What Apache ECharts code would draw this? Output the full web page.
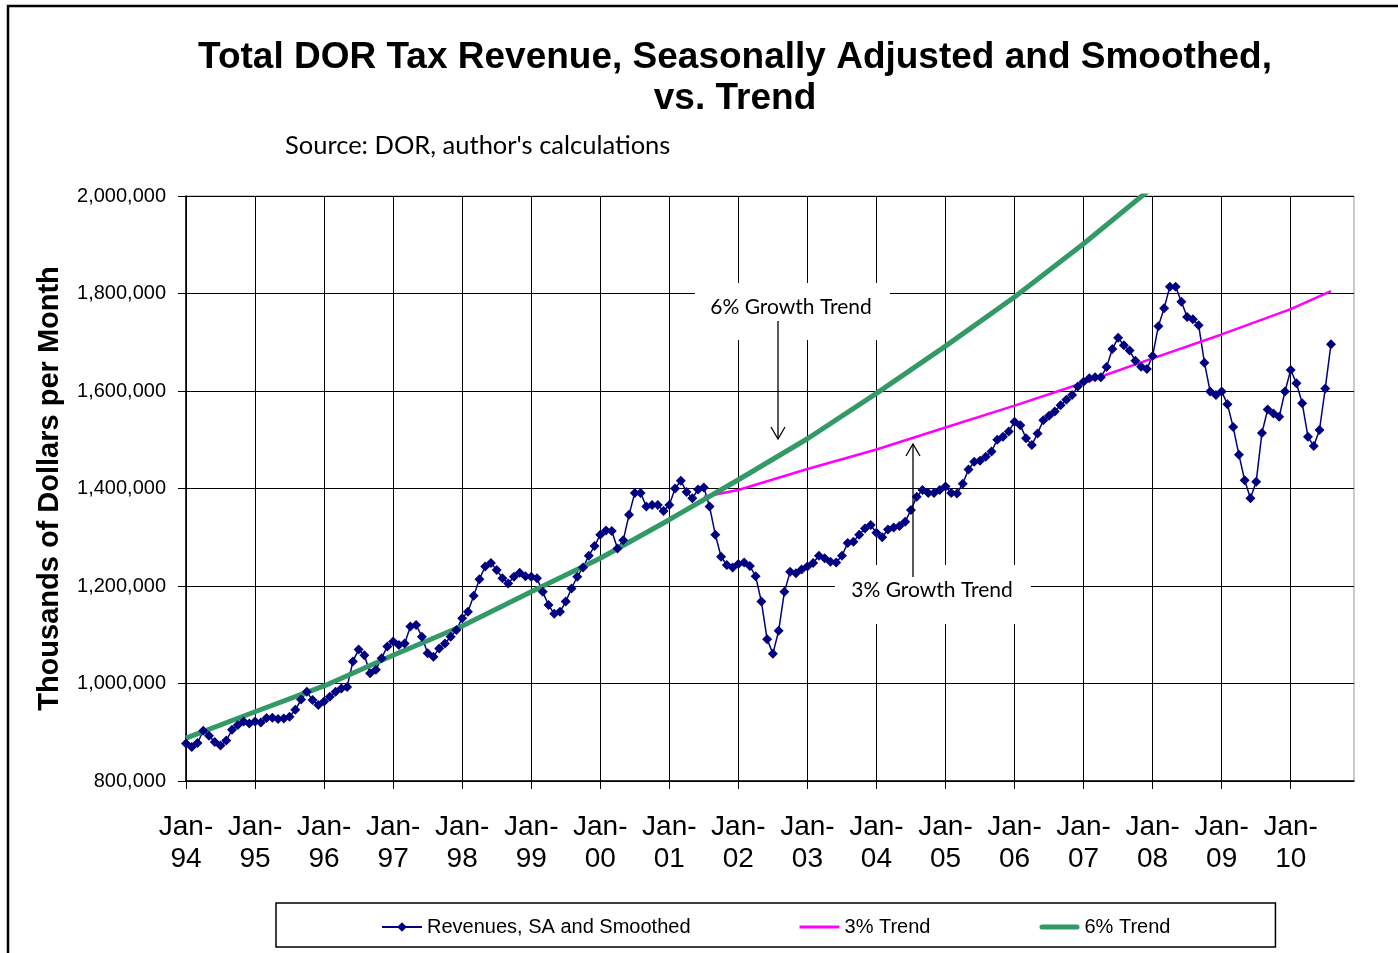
<!DOCTYPE html>
<html>
<head>
<meta charset="utf-8">
<title>Total DOR Tax Revenue vs. Trend</title>
<script src="https://cdn.jsdelivr.net/npm/echarts@6/dist/echarts.min.js"></script>
<style>
  html, body { margin: 0; padding: 0; background: #fff; }
  #chart { width: 1398px; height: 953px; }
</style>
</head>
<body>
<div id="chart"></div>
<script>
// x axis: one category per month, Jan-94 .. Dec-10
const years = ['94', '95', '96', '97', '98', '99', '00', '01', '02',
  '03', '04', '05', '06', '07', '08', '09', '10'];
const monthNames = ['Jan', 'Feb', 'Mar', 'Apr', 'May', 'Jun',
  'Jul', 'Aug', 'Sep', 'Oct', 'Nov', 'Dec'];

// Revenues, SA and Smoothed (thousands of dollars), Jan-94 .. Aug-10
const revenue = [
  877000, 870000, 878000, 903000, 893000, 880000, 873000, 883000, 905000, 915000, 922000, 918000,
  922000, 920000, 929000, 930000, 927000, 928000, 932000, 946000, 967000, 983000, 966000, 956000,
  963000, 973000, 983000, 990000, 993000, 1045000, 1070000, 1058000, 1021000, 1028000, 1052000, 1076000,
  1086000, 1079000, 1082000, 1117000, 1120000, 1096000, 1062000, 1055000, 1072000, 1082000, 1096000, 1110000,
  1134000, 1147000, 1180000, 1214000, 1240000, 1247000, 1233000, 1216000, 1205000, 1219000, 1227000, 1220000,
  1219000, 1216000, 1188000, 1161000, 1143000, 1147000, 1168000, 1195000, 1219000, 1238000, 1262000, 1282000,
  1305000, 1314000, 1313000, 1277000, 1294000, 1346000, 1391000, 1391000, 1363000, 1366000, 1366000, 1354000,
  1366000, 1400000, 1416000, 1393000, 1380000, 1398000, 1402000, 1363000, 1305000, 1260000, 1243000, 1238000,
  1245000, 1248000, 1241000, 1220000, 1168000, 1091000, 1061000, 1108000, 1188000, 1229000, 1226000, 1234000,
  1240000, 1247000, 1262000, 1257000, 1250000, 1248000, 1262000, 1288000, 1291000, 1305000, 1318000, 1325000,
  1309000, 1300000, 1316000, 1320000, 1323000, 1332000, 1356000, 1383000, 1397000, 1391000, 1391000, 1397000,
  1404000, 1391000, 1390000, 1410000, 1439000, 1455000, 1457000, 1465000, 1476000, 1500000, 1506000, 1517000,
  1537000, 1530000, 1503000, 1489000, 1513000, 1540000, 1549000, 1558000, 1571000, 1582000, 1592000, 1609000,
  1619000, 1626000, 1628000, 1628000, 1649000, 1686000, 1709000, 1694000, 1683000, 1662000, 1650000, 1645000,
  1672000, 1733000, 1770000, 1814000, 1814000, 1783000, 1752000, 1747000, 1735000, 1658000, 1599000, 1592000,
  1599000, 1573000, 1526000, 1469000, 1417000, 1380000, 1414000, 1514000, 1562000, 1554000, 1547000, 1599000,
  1643000, 1616000, 1575000, 1506000, 1487000, 1520000, 1605000, 1696000
];

// 3% trend, read at the start and at each January
const trend3Months = ['Jul-01', 'Jan-02', 'Jan-03', 'Jan-04', 'Jan-05', 'Jan-06',
  'Jan-07', 'Jan-08', 'Jan-09', 'Jan-10', 'Aug-10'];
const trend3Values = [1383000, 1397000, 1440000, 1480000, 1525000, 1570000,
  1617000, 1667000, 1716000, 1768000, 1805000];

// 6% trend, read at each January (goes off the top late in 2007)
const trend6Months = ['Jan-94', 'Jan-95', 'Jan-96', 'Jan-97', 'Jan-98', 'Jan-99', 'Jan-00',
  'Jan-01', 'Jan-02', 'Jan-03', 'Jan-04', 'Jan-05', 'Jan-06', 'Jan-07', 'Jan-08'];
const trend6Values = [888000, 942000, 995000, 1058000, 1118000, 1188000, 1257000,
  1336000, 1418000, 1502000, 1595000, 1692000, 1793000, 1902000, 2018000];

const months = [];
years.forEach(y => monthNames.forEach(m => months.push(m + '-' + y)));

function placeOnMonths(labels, values) {
  const out = months.map(() => null);
  labels.forEach((lab, i) => { out[months.indexOf(lab)] = values[i]; });
  return out;
}

const isJan = (index) => index % 12 === 0;
const FONT = '"Liberation Sans", Arial, sans-serif';
const CAL = 'Lato, "Open Sans", sans-serif';

const chart = echarts.init(document.getElementById('chart'));

chart.setOption({
  animation: false,
  backgroundColor: '#fff',
  grid: {
    left: 186, right: 44, top: 196, bottom: 172,
    show: true, borderColor: '#999', borderWidth: 1
  },
  xAxis: {
    type: 'category',
    data: months,
    boundaryGap: false,
    axisLine: { onZero: false, lineStyle: { color: '#000', width: 1.5 } },
    axisTick: { interval: isJan, length: 8, lineStyle: { color: '#000' } },
    axisLabel: {
      interval: isJan,
      color: '#000',
      fontFamily: FONT,
      fontSize: 28,
      lineHeight: 32,
      margin: 30,
      formatter: v => v.replace('-', '-\n')
    },
    splitLine: { show: true, interval: isJan, lineStyle: { color: '#000', width: 1 } }
  },
  yAxis: {
    type: 'value',
    min: 800000,
    max: 2000000,
    interval: 200000,
    name: 'Thousands of Dollars per Month',
    nameLocation: 'middle',
    nameRotate: 90,
    nameGap: 122,
    nameTextStyle: { color: '#000', fontFamily: FONT, fontWeight: 'bold', fontSize: 29 },
    axisLine: { show: true, lineStyle: { color: '#000', width: 1.5 } },
    axisTick: { show: true, length: 8, lineStyle: { color: '#000' } },
    axisLabel: {
      color: '#000',
      fontFamily: FONT,
      fontSize: 20,
      margin: 20,
      formatter: v => v.toLocaleString('en-US')
    },
    splitLine: { show: true, lineStyle: { color: '#000', width: 1 } }
  },
  legend: {
    left: 276,
    top: 903,
    padding: [14, 105, 10, 105],
    itemGap: 109,
    itemWidth: 40,
    itemHeight: 12,
    borderColor: '#000',
    borderWidth: 1.5,
    textStyle: { color: '#000', fontFamily: FONT, fontSize: 20 },
    data: [
      'Revenues, SA and Smoothed',
      { name: '3% Trend', icon: 'path://M0,0 L40,0 L40,3 L0,3 Z' },
      { name: '6% Trend', icon: 'path://M2.5,0 L37.5,0 A2.5,2.5 0 0 1 37.5,5 L2.5,5 A2.5,2.5 0 0 1 2.5,0 Z' }
    ]
  },
  series: [
    {
      name: 'Revenues, SA and Smoothed',
      type: 'line',
      data: revenue,
      symbol: 'diamond',
      symbolSize: 10,
      showAllSymbol: true,
      itemStyle: { color: '#000080' },
      lineStyle: { color: '#000080', width: 1.5 }
    },
    {
      name: '3% Trend',
      type: 'line',
      data: placeOnMonths(trend3Months, trend3Values),
      connectNulls: true,
      symbol: 'none',
      itemStyle: { color: '#ff00ff' },
      lineStyle: { color: '#ff00ff', width: 2.5 }
    },
    {
      name: '6% Trend',
      type: 'line',
      data: placeOnMonths(trend6Months, trend6Values),
      connectNulls: true,
      symbol: 'none',
      itemStyle: { color: '#339966' },
      lineStyle: { color: '#339966', width: 5 }
    }
  ],
  graphic: [
    // outer frame
    { type: 'rect', z: 0, shape: { x: 8, y: 6, width: 1420, height: 980 },
      style: { fill: null, stroke: '#000', lineWidth: 2.5 } },
    // title and source note
    { type: 'text', x: 735, y: 58, z: 10,
      style: { text: 'Total DOR Tax Revenue, Seasonally Adjusted and Smoothed,', align: 'center',
        verticalAlign: 'middle', font: 'bold 37px ' + FONT, fill: '#000' } },
    { type: 'text', x: 735, y: 99, z: 10,
      style: { text: 'vs. Trend', align: 'center', verticalAlign: 'middle',
        font: 'bold 37px ' + FONT, fill: '#000' } },
    { type: 'text', x: 285, y: 146, z: 10,
      style: { text: "Source: DOR, author's calculations", align: 'left', verticalAlign: 'middle',
        font: '25.5px ' + CAL, fill: '#000' } },
    // 6% growth trend callout
    { type: 'rect', z: 1, shape: { x: 695, y: 283, width: 195, height: 57 },
      style: { fill: '#fff' } },
    { type: 'text', x: 791, y: 307, z: 10,
      style: { text: '6% Growth Trend', align: 'center', verticalAlign: 'middle',
        font: '21px ' + CAL, fill: '#000' } },
    { type: 'polyline', z: 10, shape: { points: [[778, 321], [778, 439]] },
      style: { stroke: '#000', lineWidth: 1.3 } },
    { type: 'polyline', z: 10, shape: { points: [[771, 427], [778, 439], [785, 427]] },
      style: { stroke: '#000', lineWidth: 1.3, fill: null } },
    // 3% growth trend callout
    { type: 'rect', z: 1, shape: { x: 835, y: 565, width: 196, height: 59 },
      style: { fill: '#fff' } },
    { type: 'text', x: 932, y: 590, z: 10,
      style: { text: '3% Growth Trend', align: 'center', verticalAlign: 'middle',
        font: '21px ' + CAL, fill: '#000' } },
    { type: 'polyline', z: 10, shape: { points: [[913, 577], [913, 444]] },
      style: { stroke: '#000', lineWidth: 1.3 } },
    { type: 'polyline', z: 10, shape: { points: [[906, 456], [913, 444], [920, 456]] },
      style: { stroke: '#000', lineWidth: 1.3, fill: null } }
  ]
});
</script>
</body>
</html>
